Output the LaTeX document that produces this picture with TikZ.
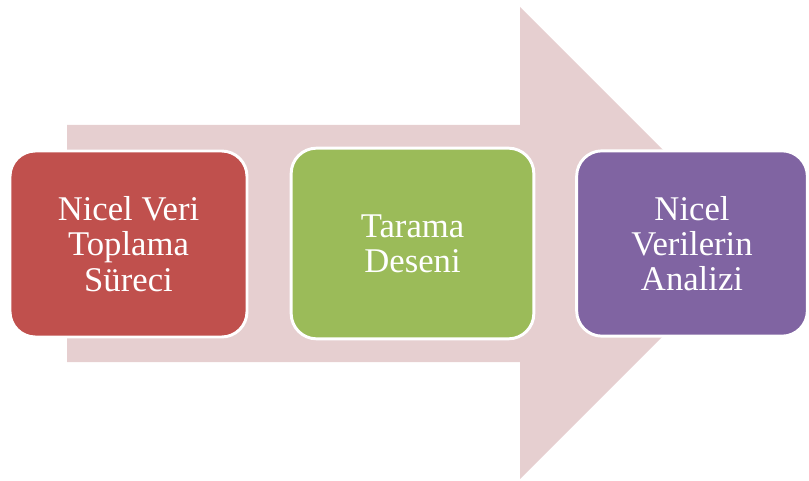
\documentclass[tikz,border=0pt]{standalone}
\usepackage{fontspec}
\setmainfont{Liberation Serif}

\definecolor{okpembe}{HTML}{E6CFD0}
\definecolor{kutukirmizi}{HTML}{C0504D}
\definecolor{kutuyesil}{HTML}{9BBB59}
\definecolor{kutumor}{HTML}{8064A2}

\begin{document}
\begin{tikzpicture}[x=0.75pt,y=-0.75pt,
    kutu/.style={draw=white, line width=2.2pt, rounded corners=19pt,
        align=center, text=white, font=\fontsize{26}{26.5}\selectfont}]

        % Resmin sınırları (809 x 481 piksel)
        \useasboundingbox (0,0) rectangle (809,481);
        \clip (0,0) rectangle (809,481);

        % Arkadaki büyük ok (gövde ve uç)
        \fill[okpembe] (67,125) -- (520,125) -- (520,7) -- (756,243)
            -- (520,479) -- (520,362) -- (67,362) -- cycle;

        % Birinci kutu: veri toplama
        \node[kutu, fill=kutukirmizi, minimum width=177.75pt, minimum height=139.5pt]
            (toplama) at (128.5,244) {Nicel Veri\\Toplama\\Süreci};

        % İkinci kutu: desen
        \node[kutu, fill=kutuyesil, minimum width=182pt, minimum height=143pt]
            (desen) at (412.5,243.5) {Tarama\\Deseni};

        % Üçüncü kutu: analiz
        \node[kutu, fill=kutumor, minimum width=173pt, minimum height=139pt]
            (analiz) at (692,243.5) {Nicel\\Verilerin\\Analizi};

    \end{tikzpicture}
\end{document}
